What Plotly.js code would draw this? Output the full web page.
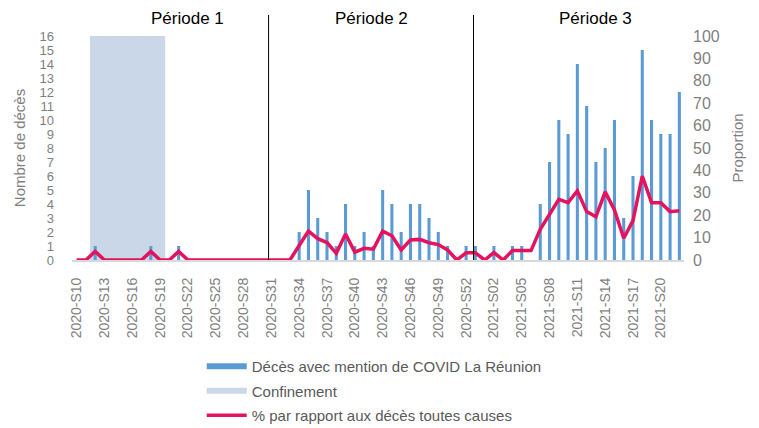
<!DOCTYPE html>
<html>
<head>
<meta charset="utf-8">
<script src="https://cdn.plot.ly/plotly-3.0.1.min.js"></script>
<style>
html,body{margin:0;padding:0;background:#fff;}
#chart{width:759px;height:428px;}
</style>
</head>
<body>
<div id="chart"></div>
<script>
// ---- Data ----
var weeks2020 = [];
for (var w = 10; w <= 53; w++) weeks2020.push('2020-S' + (w < 10 ? '0' + w : w));
var weeks2021 = [];
for (var v = 1; v <= 22; v++) weeks2021.push('2021-S' + (v < 10 ? '0' + v : v));
var categories = weeks2020.concat(weeks2021);

var deaths = [
  0,0,1,0,0,0,0,0,1,0,0,1,0,0,0,0,0,0,0,0,0,0,0,0,
  2,5,3,2,1,4,1,2,1,5,4,2,4,4,3,2,1,0,1,1,
  0,1,0,1,1,0,4,7,10,9,14,11,7,8,10,3,6,15,10,9,9,12
];

var proportion = [
  0,0,3.8,0,0,0,0,0,3.8,0,0,3.8,0,0,0,0,0,0,0,0,0,0,0,0,
  6.5,12.9,9.5,7.8,3.0,11.6,3.5,5.2,4.8,12.9,10.8,4.5,8.9,9.2,7.7,6.9,4.5,0,3.2,3.2,
  0,3.3,0,4.2,4.2,4.2,13.7,20.1,27.1,25.6,30.9,21.6,19.3,30.4,22.3,9.7,17.6,37.5,25.6,25.6,21.6,22.0
];

var confinementWeeks = ['2020-S12','2020-S13','2020-S14','2020-S15','2020-S16','2020-S17','2020-S18','2020-S19'];
var confinementLevel = 16;
var confinement = categories.map(function(c){ return confinementWeeks.indexOf(c) >= 0 ? confinementLevel : null; });

var periodLabels = ['Période 1', 'Période 2', 'Période 3'];
// period boundaries, expressed as offsets from category positions
var boundaryWeeks = ['2020-S31', '2020-S53'];
var boundaryOffsets = [-0.3, -0.2];

var legendNames = ['Décès avec mention de COVID La Réunion', 'Confinement', '% par rapport aux décès toutes causes'];

var tickVals = categories.filter(function(c, i){ return i % 3 === 0; });

// ---- Style ----
var colDeaths = '#5B9BD5';
var colConf = '#C9D7E8';
var colLine = '#E5135E';
var grey = '#7F7F7F';
var font = 'Liberation Sans, Arial, sans-serif';

var traces = [
  {type:'bar', x:categories, y:confinement, width:1, marker:{color:colConf, line:{color:colConf, width:1}}, showlegend:false, hoverinfo:'skip'},
  {type:'bar', x:categories, y:deaths, width:0.33, marker:{color:colDeaths}, showlegend:false},
  {type:'scatter', mode:'lines', x:[null], y:[null], name:legendNames[0], legendgroup:'a', line:{color:colDeaths, width:6}},
  {type:'scatter', mode:'lines', x:[null], y:[null], name:legendNames[1], legendgroup:'b', line:{color:colConf, width:6}},
  {type:'scatter', mode:'lines', x:categories, y:proportion, yaxis:'y2', name:legendNames[2], legendgroup:'c', line:{color:colLine, width:3.5}}
];

var shapes = boundaryWeeks.map(function(wk, i){
  var xpos = categories.indexOf(wk) + boundaryOffsets[i];
  return {type:'line', xref:'x', yref:'paper', x0:xpos, x1:xpos, y0:0, y1:1.094, line:{color:'#000', width:1}};
});

var labelX = [0.1895, 0.49, 0.8546];
var annotations = periodLabels.map(function(t, i){
  return {text:t, xref:'paper', yref:'paper', x:labelX[i], y:1.08, xanchor:'center', yanchor:'middle', showarrow:false,
          font:{family:font, size:17, color:'#000'}};
});

var layout = {
  width:759, height:428,
  margin:{l:72, r:75, t:36, b:168, pad:0, autoexpand:false},
  paper_bgcolor:'#fff', plot_bgcolor:'#fff',
  barmode:'overlay',
  showlegend:true,
  font:{family:font, color:grey},
  xaxis:{type:'category', categoryorder:'array', categoryarray:categories, range:[-0.5, 65.5],
         tickmode:'array', tickvals:tickVals, ticktext:tickVals, tickangle:-90,
         tickfont:{family:font, size:14, color:grey}, ticks:'', ticklabelstandoff:10,
         showline:true, linecolor:'#D9D9D9', linewidth:2, showgrid:false, zeroline:false, fixedrange:true, automargin:false},
  yaxis:{range:[0,16], dtick:1, tick0:0, showgrid:false, zeroline:false, showline:false, ticks:'', automargin:false,
         tickfont:{family:font, size:13, color:grey}, ticklabelstandoff:17,
         title:{text:'Nombre de décès', font:{family:font, size:15, color:grey}, standoff:10}},
  yaxis2:{range:[0,100], dtick:10, tick0:0, overlaying:'y', side:'right', showgrid:false, zeroline:false, showline:false, ticks:'', automargin:false,
          tickfont:{family:font, size:16, color:grey}, ticklabelstandoff:8,
          title:{text:'Proportion', font:{family:font, size:15, color:grey}, standoff:13}},
  legend:{orientation:'v', x:0.212, y:-0.402, xanchor:'left', yanchor:'top',
          itemwidth:40, tracegroupgap:2, font:{family:font, size:15, color:'#595959'}, bgcolor:'rgba(0,0,0,0)'},
  shapes:shapes,
  annotations:annotations
};

Plotly.newPlot('chart', traces, layout, {displayModeBar:false, staticPlot:true});
</script>
</body>
</html>
